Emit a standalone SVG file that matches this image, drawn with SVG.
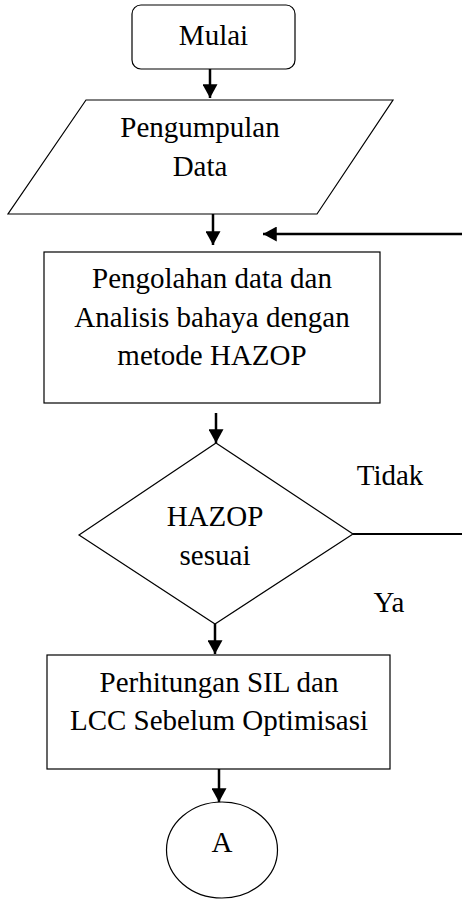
<svg xmlns="http://www.w3.org/2000/svg" width="462" height="899" viewBox="0 0 462 899">
<defs>
<marker id="ah" markerWidth="6" markerHeight="6" refX="5.5" refY="3" orient="auto" markerUnits="strokeWidth">
<path d="M0,0 L5.5,3 L0,6 Z" fill="#000"/>
</marker>
<style>
.s{fill:#fff;stroke:#000;stroke-width:1.2}
.t{font-family:"Liberation Serif","Times New Roman",serif;font-size:29px;fill:#000;text-anchor:middle}
.c{stroke:#000;stroke-width:2.5;fill:none}
</style>
</defs>
<rect width="462" height="899" fill="#fff"/>
<g id="connectors">
<line class="c" x1="210" y1="69" x2="210" y2="98" marker-end="url(#ah)"/>
<line class="c" x1="213" y1="214" x2="213" y2="245" marker-end="url(#ah)"/>
<line class="c" x1="462" y1="234" x2="263" y2="234" marker-end="url(#ah)"/>
<line class="c" x1="216" y1="413" x2="216" y2="443" marker-end="url(#ah)"/>
<line class="c" x1="353" y1="534" x2="462" y2="534" style="stroke-width:2"/>
<line class="c" x1="215" y1="624" x2="215" y2="654" marker-end="url(#ah)"/>
<line class="c" x1="219" y1="769" x2="219" y2="802" marker-end="url(#ah)"/>
<text class="t" x="390" y="485">Tidak</text>
<text class="t" x="389" y="612">Ya</text>
</g>
<g id="mulai">
<rect class="s" x="132" y="5" width="163" height="64" rx="9"/>
<text class="t" x="213.5" y="45">Mulai</text>
</g>
<g id="pengumpulan">
<polygon class="s" points="86,100 393,100 317,214 8,214"/>
<text class="t" x="200" y="137">Pengumpulan</text>
<text class="t" x="200" y="176">Data</text>
</g>
<g id="pengolahan">
<rect class="s" x="44" y="252" width="336" height="151"/>
<text class="t" x="212" y="288">Pengolahan data dan</text>
<text class="t" x="212" y="327">Analisis bahaya dengan</text>
<text class="t" x="212" y="365">metode HAZOP</text>
</g>
<g id="hazop">
<polygon class="s" points="216,443 353,534 215,624 79,535"/>
<text class="t" x="215" y="526">HAZOP</text>
<text class="t" x="215" y="565">sesuai</text>
</g>
<g id="perhitungan">
<rect class="s" x="47" y="655" width="343" height="114"/>
<text class="t" x="219" y="692">Perhitungan SIL dan</text>
<text class="t" x="219" y="730">LCC Sebelum Optimisasi</text>
</g>
<g id="a">
<ellipse class="s" cx="222" cy="850" rx="55.5" ry="48"/>
<text class="t" x="222" y="852">A</text>
</g>
</svg>
